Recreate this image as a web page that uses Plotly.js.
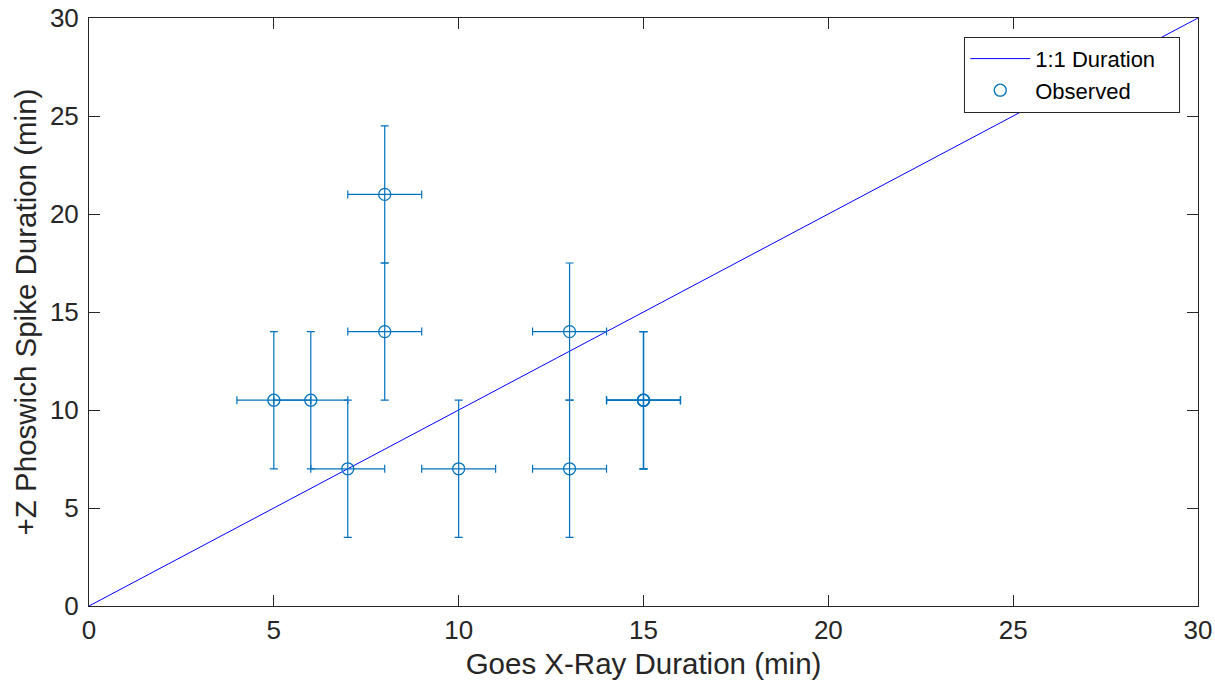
<!DOCTYPE html>
<html>
<head>
<meta charset="utf-8">
<script src="https://cdn.plot.ly/plotly-3.0.1.min.js"></script>
<style>html,body{margin:0;padding:0;background:#fff;}#chart{width:1215px;height:686px;}</style>
</head>
<body>
<div id="chart"></div>
<script>
// Data
const goesDuration = [5, 6, 7, 8, 8, 10, 13, 13, 15, 15, 15];
const phoswichDuration = [10.5, 10.5, 7, 21, 14, 7, 14, 7, 10.5, 10.5, 10.5];
const xError = [1, 1, 1, 1, 1, 1, 1, 1, 1, 1, 1];
const yError = [3.5, 3.5, 3.5, 3.5, 3.5, 3.5, 3.5, 3.5, 3.5, 3.5, 3.5];
const lineX = [0, 30];
const lineY = [0, 30];
const tickVals = [0, 5, 10, 15, 20, 25, 30];
const seriesNames = ['1:1 Duration', 'Observed'];

const font = {family: 'Liberation Sans, Arial, Helvetica, sans-serif', color: '#262626'};
const pad = '\u00a0\u00a0\u00a0';

const traces = [
  {
    x: lineX, y: lineY, mode: 'lines', name: seriesNames[0] + pad,
    line: {color: '#0000ff', width: 1}
  },
  {
    x: goesDuration, y: phoswichDuration, mode: 'markers', name: seriesNames[1],
    marker: {symbol: 'circle-open', size: 12, color: '#0072BD', line: {width: 1.3, color: '#0072BD'}},
    error_x: {type: 'data', array: xError, visible: true, color: '#0072BD', thickness: 1.2, width: 4},
    error_y: {type: 'data', array: yError, visible: true, color: '#0072BD', thickness: 1.2, width: 4}
  }
];

const axisCommon = {
  range: [0, 30], tickvals: tickVals, ticks: 'inside', ticklen: 11, tickwidth: 1,
  tickcolor: '#262626', showline: true, linecolor: '#262626', linewidth: 1,
  mirror: 'ticks', showgrid: false, zeroline: false,
  tickfont: Object.assign({size: 26}, font)
};

const layout = {
  width: 1215, height: 686,
  margin: {l: 89, r: 17, t: 18, b: 80},
  paper_bgcolor: '#ffffff', plot_bgcolor: '#ffffff',
  showlegend: true,
  xaxis: Object.assign({}, axisCommon, {
    ticklabelstandoff: 1,
    title: {text: 'Goes X-Ray Duration (min)', font: Object.assign({size: 29.5}, font), standoff: 9}
  }),
  yaxis: Object.assign({}, axisCommon, {
    ticklabelstandoff: 4,
    title: {text: '+Z Phoswich Spike Duration (min)', font: Object.assign({size: 29.5}, font), standoff: 4}
  }),
  legend: {
    x: 0.984, y: 0.968, xanchor: 'right', yanchor: 'top',
    bgcolor: '#ffffff', bordercolor: '#262626', borderwidth: 1,
    font: Object.assign({size: 22}, {family: font.family, color: '#000000'}),
    itemwidth: 60, tracegroupgap: 0
  }
};

Plotly.newPlot('chart', traces, layout, {displayModeBar: false});
</script>
</body>
</html>
